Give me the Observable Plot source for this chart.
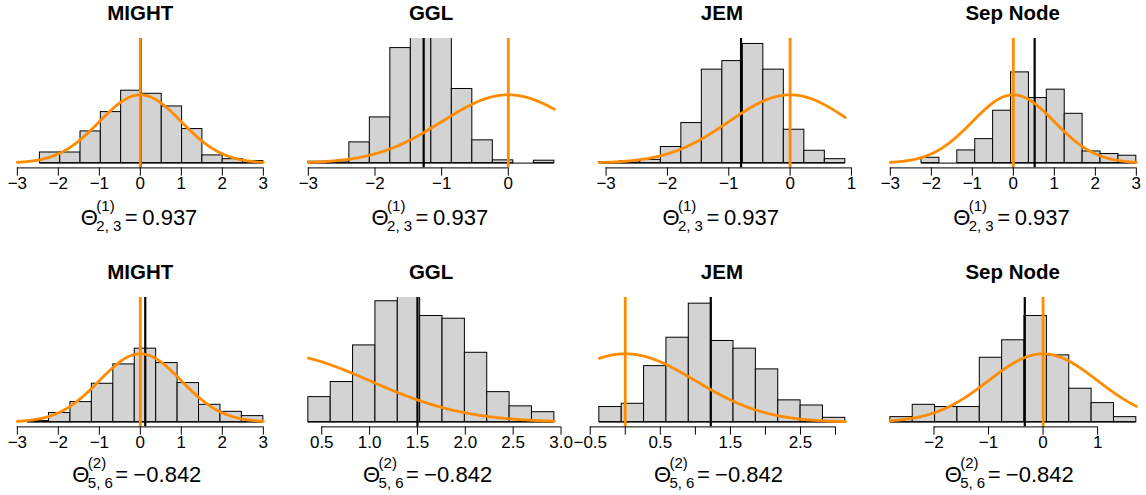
<!DOCTYPE html>
<html><head><meta charset="utf-8">
<script src="https://cdn.jsdelivr.net/npm/d3@7"></script>
<script src="https://cdn.jsdelivr.net/npm/@observablehq/plot@0.6"></script>
<style>
html,body{margin:0;padding:0;background:#fff;}
#chart{position:relative;width:1146px;height:495px;overflow:hidden;font-family:"Liberation Sans",Arial,sans-serif;}
#chart svg{position:absolute;}
</style></head><body><div id="chart"></div>
<script>
// ---------- data ----------
const methods = ["MIGHT", "GGL", "JEM", "Sep Node"];

// row 1 : Theta^(1)_{2,3} = 0.937
const xlimTop = [[-3, 3], [-3, 0.69], [-3.11, 0.90], [-3, 3]];
const binRangeTop = [[-2.45, 3.0], [-3, 0.69], [-3.11, 0.90], [-2.24, 3.0]];
const densTop = [
  [0.062, 0.062, 0.185, 0.298, 0.423, 0.405, 0.331, 0.199, 0.045, 0.023, 0.012],
  [0.008, 0.010, 0.121, 0.267, 0.672, 0.820, 0.760, 0.433, 0.133, 0.016, 0.000, 0.014],
  [0.006, 0.010, 0.019, 0.094, 0.234, 0.546, 0.596, 0.696, 0.546, 0.195, 0.072, 0.023],
  [0.031, 0.000, 0.074, 0.140, 0.306, 0.530, 0.380, 0.429, 0.288, 0.068, 0.053, 0.043]
];
const meanTop = [0.01, -1.27, -0.80, 0.52];
const ticksTop = [[-3, -2, -1, 0, 1, 2, 3], [-3, -2, -1, 0], [-3, -2, -1, 0, 1], [-3, -2, -1, 0, 1, 2, 3]];

// row 2 : Theta^(2)_{5,6} = -0.842
const xlimBot = [[-3, 3], [0.36, 2.93], [-0.37, 3.14], [-2.8, 1.71]];
const binRangeBot = [[-2.75, 3.0], [0.36, 2.93], [-0.37, 3.14], [-2.8, 1.71]];
const densBot = [
  [0.006, 0.053, 0.117, 0.224, 0.337, 0.429, 0.345, 0.228, 0.101, 0.060, 0.035],
  [0.146, 0.234, 0.448, 0.706, 0.790, 0.620, 0.604, 0.405, 0.175, 0.092, 0.058],
  [0.088, 0.107, 0.327, 0.493, 0.692, 0.474, 0.429, 0.308, 0.127, 0.097, 0.025],
  [0.029, 0.101, 0.088, 0.088, 0.376, 0.478, 0.620, 0.390, 0.195, 0.111, 0.029]
];
const meanBot = [0.12, 1.50, 1.22, -0.335];
const ticksBot = [[-3, -2, -1, 0, 1, 2, 3], [0.5, 1.0, 1.5, 2.0, 2.5, 3.0], [-0.5, 0, 0.5, 1, 1.5, 2, 2.5, 3], [-2, -1, 0, 1]];
const labeledJEMBot = [-0.5, 0.5, 1.5, 2.5];

const truthValue = 0;          // orange reference line
const ylim = [0, 0.7];
const thetaSup = ["(1)", "(2)"];
const thetaSub = ["2, 3", "5, 6"];
const thetaVal = ["0.937", "0.842"];

// ---------- layout / style ----------
const ORANGE = "#FF8C00";
const FONT = '"Liberation Sans", Arial, sans-serif';
const colX0 = 17.3, colStep = 290.8, xlimPx = 246;
const rowTop0 = 38.3, rowStep = 258.6, regionH = 129.4;
const mL = 40, mR = 40, mT = 2, mB = 34;

function dnorm(x) { return Math.exp(-x * x / 2) / Math.sqrt(2 * Math.PI); }

const chart = document.getElementById("chart");

function panel(r, c) {
  const xlim = r ? xlimBot[c] : xlimTop[c];
  const br = r ? binRangeBot[c] : binRangeTop[c];
  const dens = r ? densBot[c] : densTop[c];
  const mean = r ? meanBot[c] : meanTop[c];
  const ticks = r ? ticksBot[c] : ticksTop[c];
  const n = dens.length, w = (br[1] - br[0]) / n;
  const bins = dens.map((d, i) => ({x1: br[0] + i * w, x2: br[0] + (i + 1) * w, d}));
  const curve = d3.range(201).map(i => {
    const x = xlim[0] + (xlim[1] - xlim[0]) * i / 200;
    return {x, y: dnorm(x)};
  });
  const xext = 0.04 * (xlim[1] - xlim[0]);
  const yext = 0.04 * (ylim[1] - ylim[0]);
  const frameW = xlimPx * 1.08;
  let fmt = d => d3.format("d")(d);
  if (r === 1 && c === 1) fmt = d => d3.format(".1f")(d);
  if (r === 1 && c === 2) fmt = d => labeledJEMBot.includes(d) ? d3.format(".1f")(d) : "";
  const svg = Plot.plot({
    width: frameW + mL + mR,
    height: mT + regionH + mB,
    marginLeft: mL, marginRight: mR, marginTop: mT, marginBottom: mB,
    x: {domain: [xlim[0] - xext, xlim[1] + xext]},
    y: {domain: [ylim[0] - yext, ylim[1] + yext], axis: null},
    style: {background: "transparent", overflow: "visible", fontFamily: FONT, color: "black"},
    marks: [
      Plot.rect(bins, {x1: "x1", x2: "x2", y1: 0, y2: "d", fill: "#d3d3d3", stroke: "black", strokeWidth: 1, clip: true}),
      Plot.ruleY([0], {x1: br[0], x2: br[1], stroke: "black", strokeWidth: 1, clip: true}),
      Plot.ruleX([mean], {stroke: "black", strokeWidth: 2.2, clip: true}),
      Plot.line(curve, {x: "x", y: "y", stroke: ORANGE, strokeWidth: 2.8, clip: true}),
      Plot.ruleX([truthValue], {stroke: ORANGE, strokeWidth: 2.8, clip: true}),
      Plot.ruleY([ylim[0] - yext], {x1: ticks[0], x2: ticks[ticks.length - 1], stroke: "black", strokeWidth: 1}),
      Plot.axisX({ticks, tickSize: 8.3, tickPadding: 1.2, tickFormat: fmt, fontSize: 17, stroke: "black", strokeWidth: 1})
    ]
  });
  const X0 = colX0 + colStep * c;
  svg.style.left = (X0 - xlimPx * 0.04 - mL) + "px";
  svg.style.top = (rowTop0 + rowStep * r - mT) + "px";
  chart.appendChild(svg);
}

for (let r = 0; r < 2; r++) for (let c = 0; c < 4; c++) panel(r, c);

// ---------- titles and theta labels ----------
const ov = d3.select(chart).append("svg")
  .attr("width", 1146).attr("height", 495)
  .style("left", "0px").style("top", "0px")
  .style("font-family", FONT);

for (let r = 0; r < 2; r++) {
  const titleY = 20 + rowStep * r;
  const baseY = r ? 482 : 225;
  for (let c = 0; c < 4; c++) {
    const cx = colX0 + colStep * c + xlimPx / 2;
    ov.append("text").attr("x", cx).attr("y", titleY).attr("text-anchor", "middle")
      .attr("font-weight", "bold").attr("font-size", 20.5).text(methods[c]);
    const g = ov.append("g").attr("font-size", 22);
    const off = r ? {th: -68, st: -52.5, eq: -25, mi: -7, nu: 6} : {th: -59.5, st: -44, eq: -15.5, nu: 2};
    g.append("text").attr("x", cx + off.th).attr("y", baseY).text("Θ");
    g.append("text").attr("x", cx + off.st).attr("y", baseY - 14.3).attr("font-size", 15).text(thetaSup[r]);
    g.append("text").attr("x", cx + off.st).attr("y", baseY + 5.7).attr("font-size", 15).text(thetaSub[r]);
    g.append("text").attr("x", cx + off.eq).attr("y", baseY).text("=");
    if (r) g.append("text").attr("x", cx + off.mi).attr("y", baseY).text("−");
    g.append("text").attr("x", cx + off.nu).attr("y", baseY).text(thetaVal[r]);
  }
}
</script></body></html>
